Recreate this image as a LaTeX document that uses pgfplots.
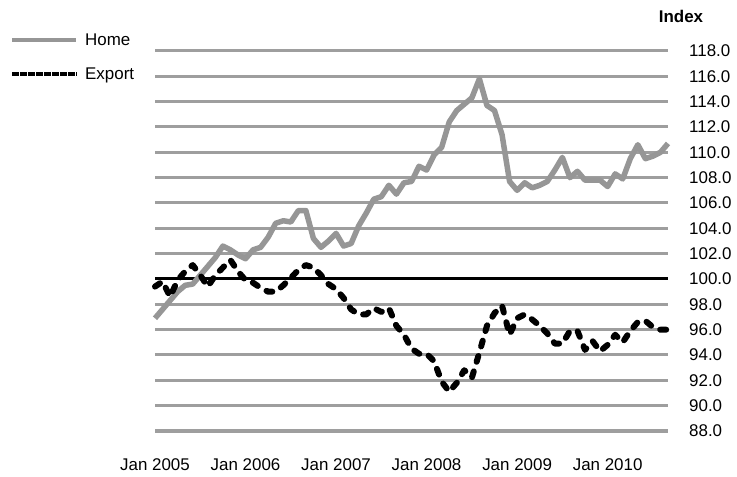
\documentclass[border=0pt]{standalone}
\usepackage{pgfplots}
\pgfplotsset{compat=1.18}
\usepackage{pgfplotstable}
\usepackage{fontspec}
\setmainfont{Liberation Sans}
\definecolor{homegrey}{RGB}{150,150,150}
\definecolor{gridgrey}{RGB}{158,158,158}

\pgfplotstableread{
m v
0 96.9
1 97.6
2 98.3
3 99.0
4 99.5
5 99.6
6 100.3
7 101.0
8 101.7
9 102.6
10 102.3
11 101.9
12 101.6
13 102.3
14 102.5
15 103.3
16 104.4
17 104.6
18 104.5
19 105.4
20 105.4
21 103.2
22 102.5
23 103.0
24 103.6
25 102.6
26 102.8
27 104.2
28 105.2
29 106.3
30 106.5
31 107.4
32 106.7
33 107.6
34 107.7
35 108.9
36 108.6
37 109.8
38 110.4
39 112.4
40 113.3
41 113.8
42 114.3
43 115.8
44 113.7
45 113.3
46 111.4
47 107.7
48 107.0
49 107.6
50 107.2
51 107.4
52 107.7
53 108.6
54 109.6
55 108.0
56 108.5
57 107.8
58 107.8
59 107.8
60 107.3
61 108.3
62 107.9
63 109.5
64 110.6
65 109.5
66 109.7
67 110.0
68 110.7
}\hometable

\pgfplotstableread{
m v
0 99.4
1 99.8
2 98.6
3 99.9
4 100.6
5 101.1
6 100.3
7 99.4
8 100.3
9 100.9
10 101.5
11 100.6
12 99.9
13 99.7
14 99.3
15 99.0
16 99.0
17 99.5
18 100.1
19 100.7
20 101.1
21 100.9
22 100.3
23 99.6
24 99.2
25 98.5
26 97.6
27 97.2
28 97.2
29 97.7
30 97.4
31 97.7
32 96.3
33 95.6
34 94.5
35 94.1
36 94.1
37 93.5
38 91.9
39 91.1
40 91.8
41 92.8
42 92.2
43 94.2
44 96.3
45 97.3
46 97.9
47 95.6
48 96.9
49 97.2
50 96.8
51 96.3
52 95.7
53 94.9
54 94.9
55 95.9
56 95.9
57 94.4
58 95.1
59 94.3
60 94.8
61 95.6
62 95.0
63 95.9
64 96.6
65 96.7
66 96.2
67 96.0
68 96.0
}\exporttable

\begin{document}
\begin{tikzpicture}
\useasboundingbox (0,0) rectangle (737bp,477bp);
\begin{axis}[
  at={(155bp,46bp)}, anchor=south west,
  scale only axis, width=513bp, height=380bp,
  xmin=0, xmax=68, ymin=88, ymax=118,
  clip=false,
  axis line style={draw=none},
  major tick length=0pt,
  tick style={draw=none},
  ytick={88,90,...,118},
  ymajorgrids,
  grid style={gridgrey, line width=3bp},
  yticklabel pos=right,
  /pgf/number format/assume math mode=true,
  /pgf/number format/.cd, fixed, fixed zerofill, precision=1, /pgfplots/.cd,
  yticklabel style={anchor=west, inner sep=0pt, xshift=21bp, font=\fontsize{17}{20}\selectfont},
  xtick={0,12,24,36,48,60},
  xticklabels={Jan 2005,Jan 2006,Jan 2007,Jan 2008,Jan 2009,Jan 2010},
  xticklabel style={anchor=north, inner sep=0pt, yshift=-27bp, font=\fontsize{17}{20}\selectfont},
  legend cell align=left,
  legend style={draw=none, fill=none, inner sep=0pt,
    at={(axis description cs:-0.2827,1.045)}, anchor=north west,
    row sep=22bp, column sep=6bp,
    nodes={inner sep=0pt, text depth=0pt},
    font=\fontsize{17}{20}\selectfont},
]
\addplot[black, line width=3bp, forget plot] coordinates {(0,100) (68,100)};
\addplot[homegrey, line width=5.5bp, line join=round,
  legend image code/.code={\draw[homegrey, line width=4bp, line cap=butt, solid] (0bp,0bp) -- (64bp,0bp);}]
  table[x=m, y=v] {\hometable};
\addlegendentry{Home}
\addplot[black, line width=6bp, line join=round, line cap=round, dash pattern=on 6bp off 10bp,
  legend image code/.code={\draw[black, line width=4bp, line cap=butt, dash pattern=on 6.5bp off 1.5bp] (0bp,0bp) -- (65bp,0bp);}]
  table[x=m, y=v] {\exporttable};
\addlegendentry{Export}
\node[anchor=base, font=\fontsize{17}{20}\selectfont\bfseries, inner sep=0pt] at (axis description cs:1.0253,1.0737) {Index};
\end{axis}
\end{tikzpicture}
\end{document}
